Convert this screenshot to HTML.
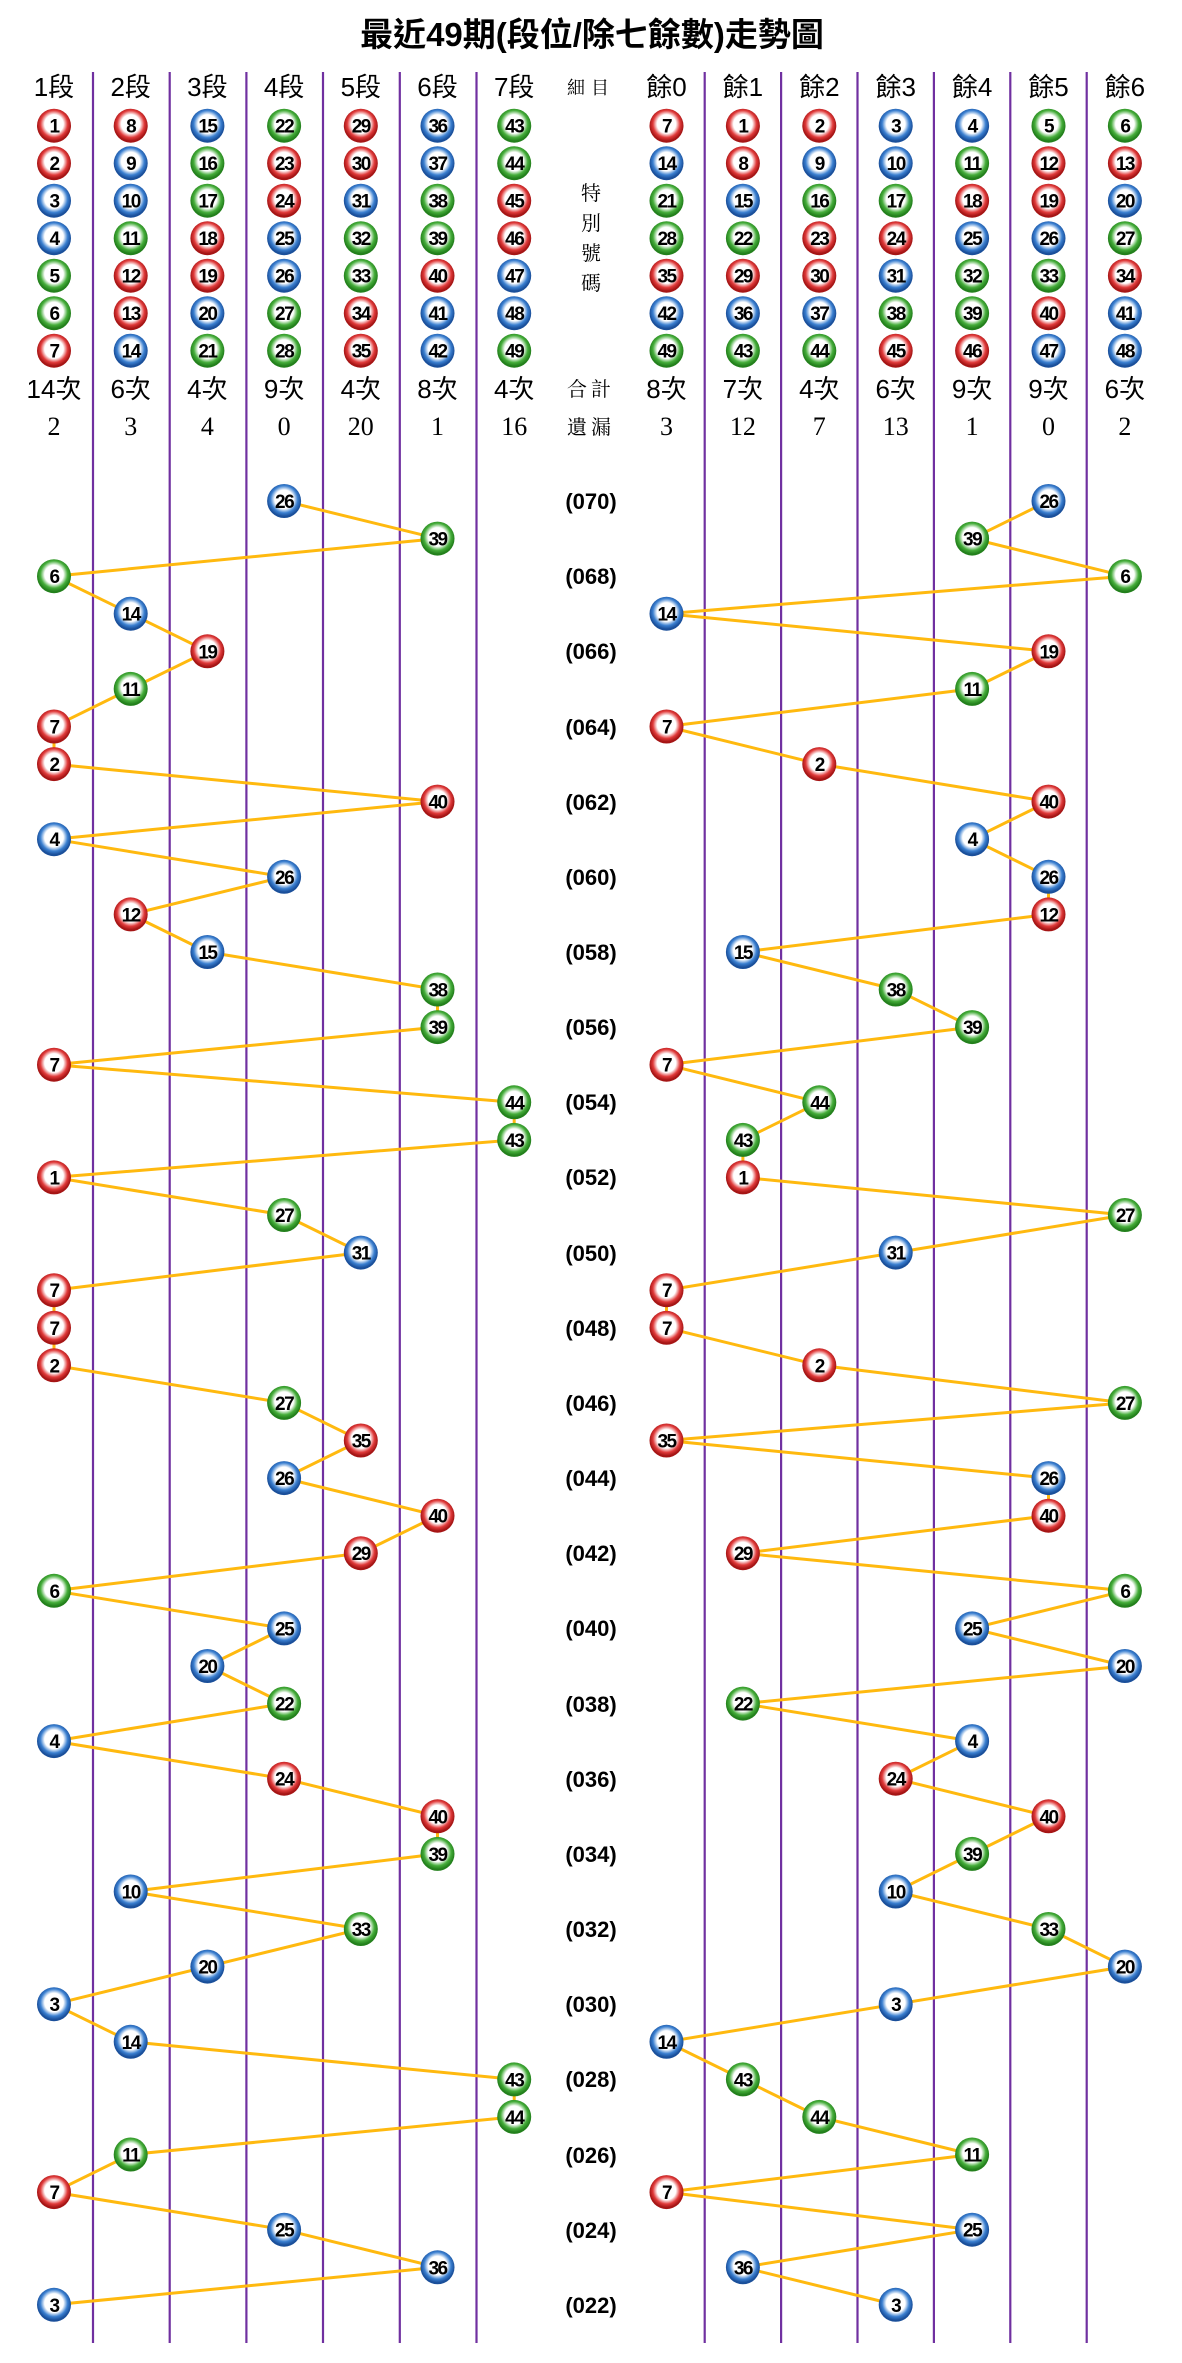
<!DOCTYPE html>
<html><head><meta charset="utf-8"><style>
html,body{margin:0;padding:0;background:#fff}
svg{display:block}
.b text{font-family:"Liberation Sans",sans-serif;font-weight:bold;font-size:19px;text-anchor:middle;fill:#000;letter-spacing:-1.5px}
.r circle{fill:url(#gr)}.u circle{fill:url(#gb)}.g circle{fill:url(#gg)}
.h{font-family:"Liberation Sans","Noto Sans CJK TC",sans-serif;font-size:26px;text-anchor:middle;fill:#000}
.s{font-family:"Liberation Serif","Noto Serif CJK SC",serif;font-size:26px;text-anchor:middle;fill:#000}
.m{font-family:"Liberation Serif","Noto Serif CJK SC",serif;font-size:18px;text-anchor:middle;fill:#000}
.p{font-family:"Liberation Sans",sans-serif;font-weight:bold;font-size:22px;text-anchor:middle;fill:#000}
.t{font-family:"Liberation Sans","Noto Sans CJK TC",sans-serif;font-weight:bold;font-size:33px;text-anchor:middle;fill:#000}
</style></head><body>
<svg width="1182" height="2363" viewBox="0 0 1182 2363" xmlns="http://www.w3.org/2000/svg">
<defs>
<radialGradient id="gr" cx="50%" cy="45%" r="50%"><stop offset="0" stop-color="#fff"/><stop offset="0.55" stop-color="#fff"/><stop offset="0.8" stop-color="#e03a3a"/><stop offset="1" stop-color="#a51515"/></radialGradient>
<radialGradient id="gb" cx="50%" cy="45%" r="50%"><stop offset="0" stop-color="#fff"/><stop offset="0.55" stop-color="#fff"/><stop offset="0.8" stop-color="#3a7fd0"/><stop offset="1" stop-color="#1a4f9a"/></radialGradient>
<radialGradient id="gg" cx="50%" cy="45%" r="50%"><stop offset="0" stop-color="#fff"/><stop offset="0.55" stop-color="#fff"/><stop offset="0.8" stop-color="#45ad3a"/><stop offset="1" stop-color="#23801c"/></radialGradient>
</defs>
<text class="t" x="592" y="46">最近49期(段位/除七餘數)走勢圖</text>
<g stroke="#7030a0" stroke-width="2.2">
<line x1="93" y1="72" x2="93" y2="2343"/><line x1="169.7" y1="72" x2="169.7" y2="2343"/><line x1="246.4" y1="72" x2="246.4" y2="2343"/><line x1="323" y1="72" x2="323" y2="2343"/><line x1="399.8" y1="72" x2="399.8" y2="2343"/><line x1="476.5" y1="72" x2="476.5" y2="2343"/>
<line x1="704.7" y1="72" x2="704.7" y2="2343"/><line x1="781.1" y1="72" x2="781.1" y2="2343"/><line x1="857.5" y1="72" x2="857.5" y2="2343"/><line x1="933.9" y1="72" x2="933.9" y2="2343"/><line x1="1010.3" y1="72" x2="1010.3" y2="2343"/><line x1="1086.7" y1="72" x2="1086.7" y2="2343"/>
</g>
<g class="h">
<text x="54" y="96">1段</text><text x="130.7" y="96">2段</text><text x="207.4" y="96">3段</text><text x="284.1" y="96">4段</text><text x="360.8" y="96">5段</text><text x="437.5" y="96">6段</text><text x="514.2" y="96">7段</text>
<text x="666.5" y="96">餘0</text><text x="742.9" y="96">餘1</text><text x="819.3" y="96">餘2</text><text x="895.7" y="96">餘3</text><text x="972.1" y="96">餘4</text><text x="1048.5" y="96">餘5</text><text x="1124.9" y="96">餘6</text>
<text x="54" y="398">14次</text><text x="130.7" y="398">6次</text><text x="207.4" y="398">4次</text><text x="284.1" y="398">9次</text><text x="360.8" y="398">4次</text><text x="437.5" y="398">8次</text><text x="514.2" y="398">4次</text>
<text x="666.5" y="398">8次</text><text x="742.9" y="398">7次</text><text x="819.3" y="398">4次</text><text x="895.7" y="398">6次</text><text x="972.1" y="398">9次</text><text x="1048.5" y="398">9次</text><text x="1124.9" y="398">6次</text>
</g>
<g class="s">
<text x="54" y="435">2</text><text x="130.7" y="435">3</text><text x="207.4" y="435">4</text><text x="284.1" y="435">0</text><text x="360.8" y="435">20</text><text x="437.5" y="435">1</text><text x="514.2" y="435">16</text>
<text x="666.5" y="435">3</text><text x="742.9" y="435">12</text><text x="819.3" y="435">7</text><text x="895.7" y="435">13</text><text x="972.1" y="435">1</text><text x="1048.5" y="435">0</text><text x="1124.9" y="435">2</text>
</g>
<g class="m">
<text x="591" y="94" letter-spacing="6">細目</text>
<text x="591" y="200" font-size="20">特</text><text x="591" y="230" font-size="20">別</text><text x="591" y="260" font-size="20">號</text><text x="591" y="290" font-size="20">碼</text>
<text x="591" y="396" font-size="20" letter-spacing="4">合計</text><text x="591" y="434" font-size="20" letter-spacing="4">遺漏</text>
</g>
<g class="p">
<text x="591" y="509">(070)</text><text x="591" y="584">(068)</text><text x="591" y="659">(066)</text><text x="591" y="735">(064)</text><text x="591" y="810">(062)</text><text x="591" y="885">(060)</text><text x="591" y="960">(058)</text><text x="591" y="1035">(056)</text><text x="591" y="1110">(054)</text><text x="591" y="1185">(052)</text><text x="591" y="1261">(050)</text><text x="591" y="1336">(048)</text><text x="591" y="1411">(046)</text><text x="591" y="1486">(044)</text><text x="591" y="1561">(042)</text><text x="591" y="1636">(040)</text><text x="591" y="1712">(038)</text><text x="591" y="1787">(036)</text><text x="591" y="1862">(034)</text><text x="591" y="1937">(032)</text><text x="591" y="2012">(030)</text><text x="591" y="2087">(028)</text><text x="591" y="2163">(026)</text><text x="591" y="2238">(024)</text><text x="591" y="2313">(022)</text>
</g>
<g fill="none" stroke="#ffb90f" stroke-width="3">
<polyline points="284.1,501 437.5,538.6 54,576.2 130.7,613.7 207.4,651.3 130.7,688.9 54,726.5 54,764.1 437.5,801.6 54,839.2 284.1,876.8 130.7,914.4 207.4,952 437.5,989.5 437.5,1027.1 54,1064.7 514.2,1102.3 514.2,1139.9 54,1177.4 284.1,1215 360.8,1252.6 54,1290.2 54,1327.8 54,1365.3 284.1,1402.9 360.8,1440.5 284.1,1478.1 437.5,1515.7 360.8,1553.2 54,1590.8 284.1,1628.4 207.4,1666 284.1,1703.6 54,1741.1 284.1,1778.7 437.5,1816.3 437.5,1853.9 130.7,1891.5 360.8,1929 207.4,1966.6 54,2004.2 130.7,2041.8 514.2,2079.4 514.2,2116.9 130.7,2154.5 54,2192.1 284.1,2229.7 437.5,2267.3 54,2304.8"/>
<polyline points="1048.5,501 972.1,538.6 1124.9,576.2 666.5,613.7 1048.5,651.3 972.1,688.9 666.5,726.5 819.3,764.1 1048.5,801.6 972.1,839.2 1048.5,876.8 1048.5,914.4 742.9,952 895.7,989.5 972.1,1027.1 666.5,1064.7 819.3,1102.3 742.9,1139.9 742.9,1177.4 1124.9,1215 895.7,1252.6 666.5,1290.2 666.5,1327.8 819.3,1365.3 1124.9,1402.9 666.5,1440.5 1048.5,1478.1 1048.5,1515.7 742.9,1553.2 1124.9,1590.8 972.1,1628.4 1124.9,1666 742.9,1703.6 972.1,1741.1 895.7,1778.7 1048.5,1816.3 972.1,1853.9 895.7,1891.5 1048.5,1929 1124.9,1966.6 895.7,2004.2 666.5,2041.8 742.9,2079.4 819.3,2116.9 972.1,2154.5 666.5,2192.1 972.1,2229.7 742.9,2267.3 895.7,2304.8"/>
</g>
<!-- header balls -->
<g class="b r" transform="translate(54,125.7)"><circle r="17"/><text y="7">1</text></g>
<g class="b r" transform="translate(54,163.2)"><circle r="17"/><text y="7">2</text></g>
<g class="b u" transform="translate(54,200.7)"><circle r="17"/><text y="7">3</text></g>
<g class="b u" transform="translate(54,238.2)"><circle r="17"/><text y="7">4</text></g>
<g class="b g" transform="translate(54,275.7)"><circle r="17"/><text y="7">5</text></g>
<g class="b g" transform="translate(54,313.2)"><circle r="17"/><text y="7">6</text></g>
<g class="b r" transform="translate(54,350.7)"><circle r="17"/><text y="7">7</text></g>
<g class="b r" transform="translate(130.7,125.7)"><circle r="17"/><text y="7">8</text></g>
<g class="b u" transform="translate(130.7,163.2)"><circle r="17"/><text y="7">9</text></g>
<g class="b u" transform="translate(130.7,200.7)"><circle r="17"/><text y="7">10</text></g>
<g class="b g" transform="translate(130.7,238.2)"><circle r="17"/><text y="7">11</text></g>
<g class="b r" transform="translate(130.7,275.7)"><circle r="17"/><text y="7">12</text></g>
<g class="b r" transform="translate(130.7,313.2)"><circle r="17"/><text y="7">13</text></g>
<g class="b u" transform="translate(130.7,350.7)"><circle r="17"/><text y="7">14</text></g>
<g class="b u" transform="translate(207.4,125.7)"><circle r="17"/><text y="7">15</text></g>
<g class="b g" transform="translate(207.4,163.2)"><circle r="17"/><text y="7">16</text></g>
<g class="b g" transform="translate(207.4,200.7)"><circle r="17"/><text y="7">17</text></g>
<g class="b r" transform="translate(207.4,238.2)"><circle r="17"/><text y="7">18</text></g>
<g class="b r" transform="translate(207.4,275.7)"><circle r="17"/><text y="7">19</text></g>
<g class="b u" transform="translate(207.4,313.2)"><circle r="17"/><text y="7">20</text></g>
<g class="b g" transform="translate(207.4,350.7)"><circle r="17"/><text y="7">21</text></g>
<g class="b g" transform="translate(284.1,125.7)"><circle r="17"/><text y="7">22</text></g>
<g class="b r" transform="translate(284.1,163.2)"><circle r="17"/><text y="7">23</text></g>
<g class="b r" transform="translate(284.1,200.7)"><circle r="17"/><text y="7">24</text></g>
<g class="b u" transform="translate(284.1,238.2)"><circle r="17"/><text y="7">25</text></g>
<g class="b u" transform="translate(284.1,275.7)"><circle r="17"/><text y="7">26</text></g>
<g class="b g" transform="translate(284.1,313.2)"><circle r="17"/><text y="7">27</text></g>
<g class="b g" transform="translate(284.1,350.7)"><circle r="17"/><text y="7">28</text></g>
<g class="b r" transform="translate(360.8,125.7)"><circle r="17"/><text y="7">29</text></g>
<g class="b r" transform="translate(360.8,163.2)"><circle r="17"/><text y="7">30</text></g>
<g class="b u" transform="translate(360.8,200.7)"><circle r="17"/><text y="7">31</text></g>
<g class="b g" transform="translate(360.8,238.2)"><circle r="17"/><text y="7">32</text></g>
<g class="b g" transform="translate(360.8,275.7)"><circle r="17"/><text y="7">33</text></g>
<g class="b r" transform="translate(360.8,313.2)"><circle r="17"/><text y="7">34</text></g>
<g class="b r" transform="translate(360.8,350.7)"><circle r="17"/><text y="7">35</text></g>
<g class="b u" transform="translate(437.5,125.7)"><circle r="17"/><text y="7">36</text></g>
<g class="b u" transform="translate(437.5,163.2)"><circle r="17"/><text y="7">37</text></g>
<g class="b g" transform="translate(437.5,200.7)"><circle r="17"/><text y="7">38</text></g>
<g class="b g" transform="translate(437.5,238.2)"><circle r="17"/><text y="7">39</text></g>
<g class="b r" transform="translate(437.5,275.7)"><circle r="17"/><text y="7">40</text></g>
<g class="b u" transform="translate(437.5,313.2)"><circle r="17"/><text y="7">41</text></g>
<g class="b u" transform="translate(437.5,350.7)"><circle r="17"/><text y="7">42</text></g>
<g class="b g" transform="translate(514.2,125.7)"><circle r="17"/><text y="7">43</text></g>
<g class="b g" transform="translate(514.2,163.2)"><circle r="17"/><text y="7">44</text></g>
<g class="b r" transform="translate(514.2,200.7)"><circle r="17"/><text y="7">45</text></g>
<g class="b r" transform="translate(514.2,238.2)"><circle r="17"/><text y="7">46</text></g>
<g class="b u" transform="translate(514.2,275.7)"><circle r="17"/><text y="7">47</text></g>
<g class="b u" transform="translate(514.2,313.2)"><circle r="17"/><text y="7">48</text></g>
<g class="b g" transform="translate(514.2,350.7)"><circle r="17"/><text y="7">49</text></g>
<g class="b r" transform="translate(666.5,125.7)"><circle r="17"/><text y="7">7</text></g>
<g class="b u" transform="translate(666.5,163.2)"><circle r="17"/><text y="7">14</text></g>
<g class="b g" transform="translate(666.5,200.7)"><circle r="17"/><text y="7">21</text></g>
<g class="b g" transform="translate(666.5,238.2)"><circle r="17"/><text y="7">28</text></g>
<g class="b r" transform="translate(666.5,275.7)"><circle r="17"/><text y="7">35</text></g>
<g class="b u" transform="translate(666.5,313.2)"><circle r="17"/><text y="7">42</text></g>
<g class="b g" transform="translate(666.5,350.7)"><circle r="17"/><text y="7">49</text></g>
<g class="b r" transform="translate(742.9,125.7)"><circle r="17"/><text y="7">1</text></g>
<g class="b r" transform="translate(742.9,163.2)"><circle r="17"/><text y="7">8</text></g>
<g class="b u" transform="translate(742.9,200.7)"><circle r="17"/><text y="7">15</text></g>
<g class="b g" transform="translate(742.9,238.2)"><circle r="17"/><text y="7">22</text></g>
<g class="b r" transform="translate(742.9,275.7)"><circle r="17"/><text y="7">29</text></g>
<g class="b u" transform="translate(742.9,313.2)"><circle r="17"/><text y="7">36</text></g>
<g class="b g" transform="translate(742.9,350.7)"><circle r="17"/><text y="7">43</text></g>
<g class="b r" transform="translate(819.3,125.7)"><circle r="17"/><text y="7">2</text></g>
<g class="b u" transform="translate(819.3,163.2)"><circle r="17"/><text y="7">9</text></g>
<g class="b g" transform="translate(819.3,200.7)"><circle r="17"/><text y="7">16</text></g>
<g class="b r" transform="translate(819.3,238.2)"><circle r="17"/><text y="7">23</text></g>
<g class="b r" transform="translate(819.3,275.7)"><circle r="17"/><text y="7">30</text></g>
<g class="b u" transform="translate(819.3,313.2)"><circle r="17"/><text y="7">37</text></g>
<g class="b g" transform="translate(819.3,350.7)"><circle r="17"/><text y="7">44</text></g>
<g class="b u" transform="translate(895.7,125.7)"><circle r="17"/><text y="7">3</text></g>
<g class="b u" transform="translate(895.7,163.2)"><circle r="17"/><text y="7">10</text></g>
<g class="b g" transform="translate(895.7,200.7)"><circle r="17"/><text y="7">17</text></g>
<g class="b r" transform="translate(895.7,238.2)"><circle r="17"/><text y="7">24</text></g>
<g class="b u" transform="translate(895.7,275.7)"><circle r="17"/><text y="7">31</text></g>
<g class="b g" transform="translate(895.7,313.2)"><circle r="17"/><text y="7">38</text></g>
<g class="b r" transform="translate(895.7,350.7)"><circle r="17"/><text y="7">45</text></g>
<g class="b u" transform="translate(972.1,125.7)"><circle r="17"/><text y="7">4</text></g>
<g class="b g" transform="translate(972.1,163.2)"><circle r="17"/><text y="7">11</text></g>
<g class="b r" transform="translate(972.1,200.7)"><circle r="17"/><text y="7">18</text></g>
<g class="b u" transform="translate(972.1,238.2)"><circle r="17"/><text y="7">25</text></g>
<g class="b g" transform="translate(972.1,275.7)"><circle r="17"/><text y="7">32</text></g>
<g class="b g" transform="translate(972.1,313.2)"><circle r="17"/><text y="7">39</text></g>
<g class="b r" transform="translate(972.1,350.7)"><circle r="17"/><text y="7">46</text></g>
<g class="b g" transform="translate(1048.5,125.7)"><circle r="17"/><text y="7">5</text></g>
<g class="b r" transform="translate(1048.5,163.2)"><circle r="17"/><text y="7">12</text></g>
<g class="b r" transform="translate(1048.5,200.7)"><circle r="17"/><text y="7">19</text></g>
<g class="b u" transform="translate(1048.5,238.2)"><circle r="17"/><text y="7">26</text></g>
<g class="b g" transform="translate(1048.5,275.7)"><circle r="17"/><text y="7">33</text></g>
<g class="b r" transform="translate(1048.5,313.2)"><circle r="17"/><text y="7">40</text></g>
<g class="b u" transform="translate(1048.5,350.7)"><circle r="17"/><text y="7">47</text></g>
<g class="b g" transform="translate(1124.9,125.7)"><circle r="17"/><text y="7">6</text></g>
<g class="b r" transform="translate(1124.9,163.2)"><circle r="17"/><text y="7">13</text></g>
<g class="b u" transform="translate(1124.9,200.7)"><circle r="17"/><text y="7">20</text></g>
<g class="b g" transform="translate(1124.9,238.2)"><circle r="17"/><text y="7">27</text></g>
<g class="b r" transform="translate(1124.9,275.7)"><circle r="17"/><text y="7">34</text></g>
<g class="b u" transform="translate(1124.9,313.2)"><circle r="17"/><text y="7">41</text></g>
<g class="b u" transform="translate(1124.9,350.7)"><circle r="17"/><text y="7">48</text></g>
<!-- trend balls left -->
<g class="b u" transform="translate(284.1,501)"><circle r="17"/><text y="7">26</text></g>
<g class="b g" transform="translate(437.5,538.6)"><circle r="17"/><text y="7">39</text></g>
<g class="b g" transform="translate(54,576.2)"><circle r="17"/><text y="7">6</text></g>
<g class="b u" transform="translate(130.7,613.7)"><circle r="17"/><text y="7">14</text></g>
<g class="b r" transform="translate(207.4,651.3)"><circle r="17"/><text y="7">19</text></g>
<g class="b g" transform="translate(130.7,688.9)"><circle r="17"/><text y="7">11</text></g>
<g class="b r" transform="translate(54,726.5)"><circle r="17"/><text y="7">7</text></g>
<g class="b r" transform="translate(54,764.1)"><circle r="17"/><text y="7">2</text></g>
<g class="b r" transform="translate(437.5,801.6)"><circle r="17"/><text y="7">40</text></g>
<g class="b u" transform="translate(54,839.2)"><circle r="17"/><text y="7">4</text></g>
<g class="b u" transform="translate(284.1,876.8)"><circle r="17"/><text y="7">26</text></g>
<g class="b r" transform="translate(130.7,914.4)"><circle r="17"/><text y="7">12</text></g>
<g class="b u" transform="translate(207.4,952)"><circle r="17"/><text y="7">15</text></g>
<g class="b g" transform="translate(437.5,989.5)"><circle r="17"/><text y="7">38</text></g>
<g class="b g" transform="translate(437.5,1027.1)"><circle r="17"/><text y="7">39</text></g>
<g class="b r" transform="translate(54,1064.7)"><circle r="17"/><text y="7">7</text></g>
<g class="b g" transform="translate(514.2,1102.3)"><circle r="17"/><text y="7">44</text></g>
<g class="b g" transform="translate(514.2,1139.9)"><circle r="17"/><text y="7">43</text></g>
<g class="b r" transform="translate(54,1177.4)"><circle r="17"/><text y="7">1</text></g>
<g class="b g" transform="translate(284.1,1215)"><circle r="17"/><text y="7">27</text></g>
<g class="b u" transform="translate(360.8,1252.6)"><circle r="17"/><text y="7">31</text></g>
<g class="b r" transform="translate(54,1290.2)"><circle r="17"/><text y="7">7</text></g>
<g class="b r" transform="translate(54,1327.8)"><circle r="17"/><text y="7">7</text></g>
<g class="b r" transform="translate(54,1365.3)"><circle r="17"/><text y="7">2</text></g>
<g class="b g" transform="translate(284.1,1402.9)"><circle r="17"/><text y="7">27</text></g>
<g class="b r" transform="translate(360.8,1440.5)"><circle r="17"/><text y="7">35</text></g>
<g class="b u" transform="translate(284.1,1478.1)"><circle r="17"/><text y="7">26</text></g>
<g class="b r" transform="translate(437.5,1515.7)"><circle r="17"/><text y="7">40</text></g>
<g class="b r" transform="translate(360.8,1553.2)"><circle r="17"/><text y="7">29</text></g>
<g class="b g" transform="translate(54,1590.8)"><circle r="17"/><text y="7">6</text></g>
<g class="b u" transform="translate(284.1,1628.4)"><circle r="17"/><text y="7">25</text></g>
<g class="b u" transform="translate(207.4,1666)"><circle r="17"/><text y="7">20</text></g>
<g class="b g" transform="translate(284.1,1703.6)"><circle r="17"/><text y="7">22</text></g>
<g class="b u" transform="translate(54,1741.1)"><circle r="17"/><text y="7">4</text></g>
<g class="b r" transform="translate(284.1,1778.7)"><circle r="17"/><text y="7">24</text></g>
<g class="b r" transform="translate(437.5,1816.3)"><circle r="17"/><text y="7">40</text></g>
<g class="b g" transform="translate(437.5,1853.9)"><circle r="17"/><text y="7">39</text></g>
<g class="b u" transform="translate(130.7,1891.5)"><circle r="17"/><text y="7">10</text></g>
<g class="b g" transform="translate(360.8,1929)"><circle r="17"/><text y="7">33</text></g>
<g class="b u" transform="translate(207.4,1966.6)"><circle r="17"/><text y="7">20</text></g>
<g class="b u" transform="translate(54,2004.2)"><circle r="17"/><text y="7">3</text></g>
<g class="b u" transform="translate(130.7,2041.8)"><circle r="17"/><text y="7">14</text></g>
<g class="b g" transform="translate(514.2,2079.4)"><circle r="17"/><text y="7">43</text></g>
<g class="b g" transform="translate(514.2,2116.9)"><circle r="17"/><text y="7">44</text></g>
<g class="b g" transform="translate(130.7,2154.5)"><circle r="17"/><text y="7">11</text></g>
<g class="b r" transform="translate(54,2192.1)"><circle r="17"/><text y="7">7</text></g>
<g class="b u" transform="translate(284.1,2229.7)"><circle r="17"/><text y="7">25</text></g>
<g class="b u" transform="translate(437.5,2267.3)"><circle r="17"/><text y="7">36</text></g>
<g class="b u" transform="translate(54,2304.8)"><circle r="17"/><text y="7">3</text></g>
<!-- trend balls right -->
<g class="b u" transform="translate(1048.5,501)"><circle r="17"/><text y="7">26</text></g>
<g class="b g" transform="translate(972.1,538.6)"><circle r="17"/><text y="7">39</text></g>
<g class="b g" transform="translate(1124.9,576.2)"><circle r="17"/><text y="7">6</text></g>
<g class="b u" transform="translate(666.5,613.7)"><circle r="17"/><text y="7">14</text></g>
<g class="b r" transform="translate(1048.5,651.3)"><circle r="17"/><text y="7">19</text></g>
<g class="b g" transform="translate(972.1,688.9)"><circle r="17"/><text y="7">11</text></g>
<g class="b r" transform="translate(666.5,726.5)"><circle r="17"/><text y="7">7</text></g>
<g class="b r" transform="translate(819.3,764.1)"><circle r="17"/><text y="7">2</text></g>
<g class="b r" transform="translate(1048.5,801.6)"><circle r="17"/><text y="7">40</text></g>
<g class="b u" transform="translate(972.1,839.2)"><circle r="17"/><text y="7">4</text></g>
<g class="b u" transform="translate(1048.5,876.8)"><circle r="17"/><text y="7">26</text></g>
<g class="b r" transform="translate(1048.5,914.4)"><circle r="17"/><text y="7">12</text></g>
<g class="b u" transform="translate(742.9,952)"><circle r="17"/><text y="7">15</text></g>
<g class="b g" transform="translate(895.7,989.5)"><circle r="17"/><text y="7">38</text></g>
<g class="b g" transform="translate(972.1,1027.1)"><circle r="17"/><text y="7">39</text></g>
<g class="b r" transform="translate(666.5,1064.7)"><circle r="17"/><text y="7">7</text></g>
<g class="b g" transform="translate(819.3,1102.3)"><circle r="17"/><text y="7">44</text></g>
<g class="b g" transform="translate(742.9,1139.9)"><circle r="17"/><text y="7">43</text></g>
<g class="b r" transform="translate(742.9,1177.4)"><circle r="17"/><text y="7">1</text></g>
<g class="b g" transform="translate(1124.9,1215)"><circle r="17"/><text y="7">27</text></g>
<g class="b u" transform="translate(895.7,1252.6)"><circle r="17"/><text y="7">31</text></g>
<g class="b r" transform="translate(666.5,1290.2)"><circle r="17"/><text y="7">7</text></g>
<g class="b r" transform="translate(666.5,1327.8)"><circle r="17"/><text y="7">7</text></g>
<g class="b r" transform="translate(819.3,1365.3)"><circle r="17"/><text y="7">2</text></g>
<g class="b g" transform="translate(1124.9,1402.9)"><circle r="17"/><text y="7">27</text></g>
<g class="b r" transform="translate(666.5,1440.5)"><circle r="17"/><text y="7">35</text></g>
<g class="b u" transform="translate(1048.5,1478.1)"><circle r="17"/><text y="7">26</text></g>
<g class="b r" transform="translate(1048.5,1515.7)"><circle r="17"/><text y="7">40</text></g>
<g class="b r" transform="translate(742.9,1553.2)"><circle r="17"/><text y="7">29</text></g>
<g class="b g" transform="translate(1124.9,1590.8)"><circle r="17"/><text y="7">6</text></g>
<g class="b u" transform="translate(972.1,1628.4)"><circle r="17"/><text y="7">25</text></g>
<g class="b u" transform="translate(1124.9,1666)"><circle r="17"/><text y="7">20</text></g>
<g class="b g" transform="translate(742.9,1703.6)"><circle r="17"/><text y="7">22</text></g>
<g class="b u" transform="translate(972.1,1741.1)"><circle r="17"/><text y="7">4</text></g>
<g class="b r" transform="translate(895.7,1778.7)"><circle r="17"/><text y="7">24</text></g>
<g class="b r" transform="translate(1048.5,1816.3)"><circle r="17"/><text y="7">40</text></g>
<g class="b g" transform="translate(972.1,1853.9)"><circle r="17"/><text y="7">39</text></g>
<g class="b u" transform="translate(895.7,1891.5)"><circle r="17"/><text y="7">10</text></g>
<g class="b g" transform="translate(1048.5,1929)"><circle r="17"/><text y="7">33</text></g>
<g class="b u" transform="translate(1124.9,1966.6)"><circle r="17"/><text y="7">20</text></g>
<g class="b u" transform="translate(895.7,2004.2)"><circle r="17"/><text y="7">3</text></g>
<g class="b u" transform="translate(666.5,2041.8)"><circle r="17"/><text y="7">14</text></g>
<g class="b g" transform="translate(742.9,2079.4)"><circle r="17"/><text y="7">43</text></g>
<g class="b g" transform="translate(819.3,2116.9)"><circle r="17"/><text y="7">44</text></g>
<g class="b g" transform="translate(972.1,2154.5)"><circle r="17"/><text y="7">11</text></g>
<g class="b r" transform="translate(666.5,2192.1)"><circle r="17"/><text y="7">7</text></g>
<g class="b u" transform="translate(972.1,2229.7)"><circle r="17"/><text y="7">25</text></g>
<g class="b u" transform="translate(742.9,2267.3)"><circle r="17"/><text y="7">36</text></g>
<g class="b u" transform="translate(895.7,2304.8)"><circle r="17"/><text y="7">3</text></g>
</svg>
</body></html>
